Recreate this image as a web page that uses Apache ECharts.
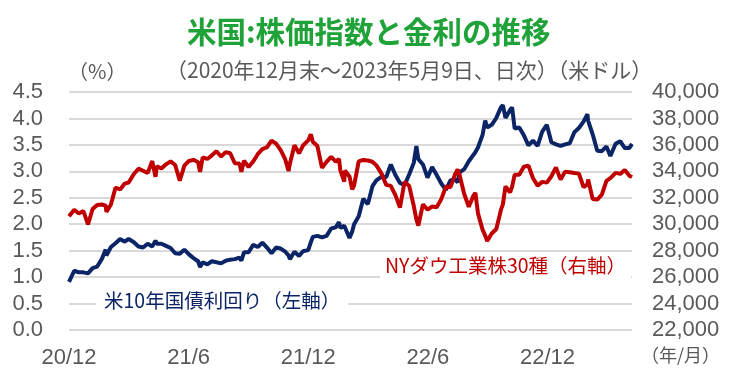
<!DOCTYPE html>
<html><head><meta charset="utf-8">
<script src="https://cdn.jsdelivr.net/npm/echarts@6/dist/echarts.min.js"></script>
<style>html,body{margin:0;padding:0;background:#fff}#c{width:730px;height:380px}</style>
</head><body><div id="c"></div>
<script>
// Observation dates (weekly closes plus a few notable days)
const dates = [
'2020-12-31','2021-01-08','2021-01-15','2021-01-22','2021-01-29','2021-02-05','2021-02-12','2021-02-19','2021-02-25','2021-02-26',
'2021-03-05','2021-03-12','2021-03-19','2021-03-26','2021-04-01','2021-04-09','2021-04-16','2021-04-23','2021-04-30','2021-05-07',
'2021-05-12','2021-05-14','2021-05-21','2021-05-28','2021-06-04','2021-06-11','2021-06-18','2021-06-25','2021-07-02','2021-07-09',
'2021-07-16','2021-07-19','2021-07-23','2021-07-30','2021-08-06','2021-08-13','2021-08-20','2021-08-27','2021-09-03','2021-09-10',
'2021-09-17','2021-09-20','2021-09-24','2021-10-01','2021-10-08','2021-10-15','2021-10-22','2021-10-29','2021-11-05','2021-11-12',
'2021-11-19','2021-11-26','2021-12-01','2021-12-03','2021-12-10','2021-12-17','2021-12-23','2021-12-31','2022-01-04','2022-01-07',
'2022-01-14','2022-01-21','2022-01-28','2022-02-04','2022-02-11','2022-02-16','2022-02-18','2022-02-24','2022-02-25','2022-03-04',
'2022-03-08','2022-03-11','2022-03-18','2022-03-25','2022-04-01','2022-04-08','2022-04-14','2022-04-22','2022-04-29','2022-05-06',
'2022-05-13','2022-05-20','2022-05-27','2022-06-03','2022-06-10','2022-06-14','2022-06-17','2022-06-24','2022-07-01','2022-07-08',
'2022-07-15','2022-07-22','2022-07-29','2022-08-05','2022-08-12','2022-08-16','2022-08-19','2022-08-26','2022-09-02','2022-09-09',
'2022-09-12','2022-09-16','2022-09-23','2022-09-27','2022-09-30','2022-10-07','2022-10-14','2022-10-21','2022-10-24','2022-10-28',
'2022-11-04','2022-11-07','2022-11-11','2022-11-18','2022-11-25','2022-12-02','2022-12-09','2022-12-16','2022-12-23','2022-12-30',
'2023-01-06','2023-01-13','2023-01-20','2023-01-27','2023-02-03','2023-02-10','2023-02-17','2023-02-24','2023-03-02','2023-03-03',
'2023-03-10','2023-03-17','2023-03-24','2023-03-31','2023-04-06','2023-04-14','2023-04-21','2023-04-28','2023-05-05','2023-05-09'
];
// US 10-year Treasury yield (%), left axis
const yield10y = [
0.91,1.12,1.09,1.09,1.07,1.17,1.20,1.34,1.52,1.41,
1.57,1.64,1.72,1.67,1.72,1.66,1.58,1.56,1.63,1.58,
1.69,1.63,1.63,1.59,1.55,1.45,1.44,1.52,1.43,1.36,
1.30,1.19,1.28,1.24,1.30,1.28,1.26,1.31,1.33,1.34,
1.37,1.31,1.47,1.47,1.61,1.57,1.65,1.56,1.45,1.56,
1.54,1.48,1.41,1.34,1.48,1.40,1.49,1.51,1.66,1.76,
1.78,1.75,1.78,1.92,1.94,2.04,1.93,1.97,1.97,1.74,
1.86,2.00,2.15,2.48,2.38,2.72,2.83,2.90,2.89,3.13,
2.93,2.78,2.74,2.94,3.16,3.48,3.23,3.13,2.88,3.08,
2.93,2.77,2.65,2.83,2.85,2.79,2.98,3.04,3.19,3.31,
3.36,3.45,3.69,3.96,3.83,3.88,4.01,4.21,4.25,4.01,
4.16,4.21,3.81,3.83,3.68,3.49,3.58,3.48,3.75,3.88,
3.55,3.51,3.48,3.51,3.53,3.74,3.82,3.94,4.08,3.96,
3.70,3.39,3.38,3.47,3.29,3.52,3.57,3.44,3.44,3.52
];
// NY Dow Jones Industrial Average (USD), right axis
const dow30 = [
30606,31098,30814,30997,29983,31148,31458,31494,31402,30932,
31496,32779,32628,33073,33153,33800,34200,34043,33875,34778,
33587,34382,34208,34529,34756,34480,33290,34433,34786,34870,
34688,33962,35062,34935,35209,35515,35120,35456,35369,34608,
34584,33970,34798,34326,34746,35295,35677,35820,36328,36100,
35602,34899,34022,34580,35971,35365,35950,36338,36800,36232,
35912,34265,34725,35089,34738,34934,34079,33224,34059,33615,
32632,32944,34755,34861,34818,34721,34451,33811,32977,32899,
32197,31262,33213,32900,31393,30365,29888,31501,31097,31338,
31288,31899,32845,32803,33761,34152,33706,32283,31318,32151,
32381,30822,29590,29135,28725,29297,29635,31082,31499,32861,
32403,32827,33748,33746,34347,34430,33476,32920,33203,33147,
33631,34303,33375,33978,33926,33869,33827,32817,33004,33391,
31910,31862,32238,33274,33485,33886,33809,34098,33674,33562
];
const startDate = '2020-12-31';
const endDate = '2023-05-09';
const xTickLabels = ['20/12','21/6','21/12','22/6','22/12'];
const xTickDays = [0, 182.5, 365, 547.5, 730];

function dayOf(s){const p=s.split('-');const q=startDate.split('-');
  return (Date.UTC(+p[0],+p[1]-1,+p[2])-Date.UTC(+q[0],+q[1]-1,+q[2]))/86400000;}

const chart = echarts.init(document.getElementById('c'), null, {renderer:'canvas'});
const gray = '#595959';
const numFont = 'Liberation Sans, Arial, sans-serif';
const jpFont = '"Noto Sans CJK JP", sans-serif';
chart.setOption({
  animation:false,
  backgroundColor:'#fff',
  grid:{left:69,right:98,top:92,bottom:50},
  xAxis:{type:'value',min:0,max:dayOf(endDate),interval:182.5,
    axisLine:{show:false},axisTick:{show:false},splitLine:{show:false},
    axisLabel:{margin:17,fontSize:22,color:gray,fontFamily:numFont,showMaxLabel:false,
      formatter:function(v){const i=xTickDays.indexOf(v);return i>=0?xTickLabels[i]:'';}}},
  yAxis:[
    {type:'value',position:'left',min:0,max:4.5,interval:0.5,
      axisLine:{show:false},axisTick:{show:false},
      splitLine:{lineStyle:{color:'#d9d9d9',width:2}},
      axisLabel:{margin:26,fontSize:22,color:gray,fontFamily:numFont,formatter:v=>v.toFixed(1)}},
    {type:'value',position:'right',min:22000,max:40000,interval:2000,
      axisLine:{show:false},axisTick:{show:false},splitLine:{show:false},
      axisLabel:{margin:20,fontSize:22,color:gray,fontFamily:numFont,
        formatter:v=>v.toLocaleString('en-US')}}
  ],
  series:[
    {type:'line',yAxisIndex:0,showSymbol:false,z:3,
      lineStyle:{color:'#0b2466',width:4},itemStyle:{color:'#0b2466'},
      data:dates.map((d,i)=>[dayOf(d),yield10y[i]])},
    {type:'line',yAxisIndex:1,showSymbol:false,z:4,
      lineStyle:{color:'#c00000',width:4},itemStyle:{color:'#c00000'},
      data:dates.map((d,i)=>[dayOf(d),dow30[i]])}
  ],
  graphic:[
    {type:'text',left:187,top:17,z:100,style:{text:'米国:株価指数と金利の推移',fill:'#1fa339',font:'bold 29.5px '+jpFont}},
    {type:'text',left:68,top:61,z:100,style:{text:'（%）',fill:gray,font:'20px '+jpFont}},
    {type:'text',left:166,top:60,z:100,style:{text:'（2020年12月末～2023年5月9日、日次）（米ドル）',fill:gray,font:'21px '+jpFont}},
    {type:'text',left:641,top:346,z:100,style:{text:'（年/月）',fill:gray,font:'18px '+jpFont}},
    {type:'text',left:96,top:288,z:100,style:{text:'米10年国債利回り（左軸）',fill:'#0b2466',font:'19.5px '+jpFont,backgroundColor:'#fff',padding:[3,8]}},
    {type:'text',left:380,top:253,z:100,style:{text:'NYダウ工業株30種（右軸）',fill:'#c00000',font:'19.5px '+jpFont,backgroundColor:'#fff',padding:[3,5]}}
  ]
});
</script>
</body></html>
